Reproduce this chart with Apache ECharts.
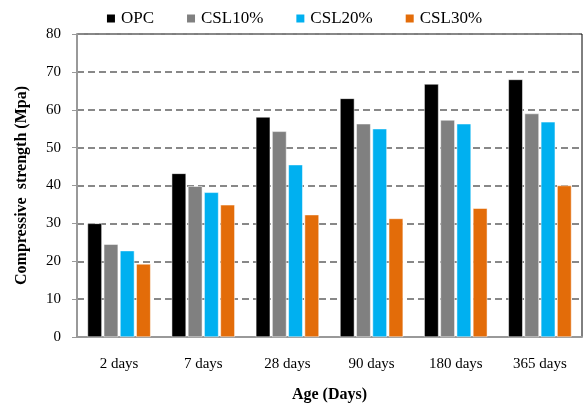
<!DOCTYPE html>
<html><head><meta charset="utf-8">
<script src="https://cdn.jsdelivr.net/npm/echarts@6/dist/echarts.min.js"></script>
<style>html,body{margin:0;padding:0;background:#fff}#c{width:587px;height:408px}</style>
</head><body><div id="c"></div>
<script>
const categories = ['2 days','7 days','28 days','90 days','180 days','365 days'];
const opc   = [30, 43.2, 58.1, 63, 66.8, 68];
const csl10 = [24.5, 39.8, 54.3, 56.3, 57.3, 59];
const csl20 = [22.8, 38.2, 45.5, 55, 56.3, 56.8];
const csl30 = [19.3, 34.9, 32.3, 31.3, 34, 40];
const yTicks = [0,10,20,30,40,50,60,70,80];
const seriesNames = ['OPC','CSL10%','CSL20%','CSL30%'];
const colors = ['#000000','#808080','#00B0F0','#E36C09'];
const font = 'Liberation Serif';
const chart = echarts.init(document.getElementById('c'));
const mk = (name, data, i) => ({
  name, type:'bar', data, barGap:'13%', barCategoryGap:'25%',
  itemStyle:{color:colors[i], borderColor:'#fff', borderWidth:0.5},
  animation:false
});
chart.setOption({
  animation:false,
  legend:{top:5, left:'center', itemWidth:10, itemHeight:10, itemGap:31, icon:'rect',
    textStyle:{fontFamily:font, fontSize:17, color:'#000'}, data:seriesNames},
  grid:{left:77, right:5, top:34, bottom:68, show:true, borderColor:'#000', borderWidth:1},
  xAxis:{type:'category', data:categories,
    axisLine:{lineStyle:{color:'#999', width:2}}, axisTick:{show:false},
    axisLabel:{fontFamily:font, fontSize:15, color:'#000', margin:20},
    name:'Age (Days)', nameLocation:'middle', nameGap:50,
    nameTextStyle:{fontFamily:font, fontSize:16, fontWeight:'bold', color:'#000'}},
  yAxis:{type:'value', min:yTicks[0], max:yTicks[yTicks.length-1], interval:10,
    axisLine:{show:true, lineStyle:{color:'#999', width:2}},
    axisTick:{show:true, length:5, lineStyle:{color:'#999'}},
    axisLabel:{fontFamily:font, fontSize:15, color:'#000', margin:16},
    splitLine:{lineStyle:{color:'#888', type:[7,4], width:2}},
    name:'Compressive  strength (Mpa)', nameLocation:'middle', nameGap:47,
    nameTextStyle:{fontFamily:font, fontSize:16, fontWeight:'bold', color:'#000'}},
  series:[mk(seriesNames[0],opc,0), mk(seriesNames[1],csl10,1), mk(seriesNames[2],csl20,2), mk(seriesNames[3],csl30,3)]
});
</script></body></html>
